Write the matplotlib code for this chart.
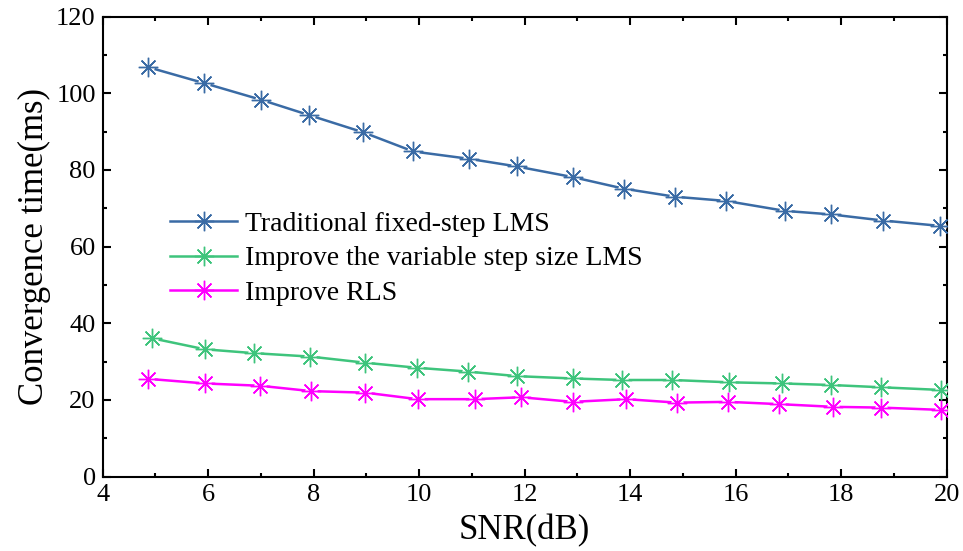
import numpy as np
import matplotlib.pyplot as plt
from matplotlib.ticker import MultipleLocator

plt.rcParams['font.family'] = ['Liberation Serif', 'DejaVu Serif']

x_lms = [4.86, 5.93, 7.0, 7.91, 8.94, 9.89, 10.94, 11.85,
         12.92, 13.88, 14.85, 15.82, 16.94, 17.80, 18.79, 19.87]
y_lms = [106.8, 102.6, 98.3, 94.3, 89.8, 84.8, 82.9, 80.9,
         78.1, 75.1, 73.0, 71.9, 69.3, 68.4, 66.8, 65.4]

x_vss = [4.93, 5.94, 6.87, 7.94, 8.98, 9.95, 10.92, 11.86,
         12.91, 13.84, 14.80, 15.87, 16.88, 17.80, 18.76, 19.90]
y_vss = [36.1, 33.2, 32.2, 31.3, 29.7, 28.4, 27.4, 26.2,
         25.6, 25.2, 25.2, 24.6, 24.3, 23.9, 23.3, 22.6]

x_rls = [4.86, 5.94, 6.98, 7.95, 8.98, 9.97, 11.06, 11.93,
         12.91, 13.93, 14.88, 15.86, 16.83, 17.85, 18.76, 19.90]
y_rls = [25.5, 24.3, 23.7, 22.3, 21.9, 20.2, 20.2, 20.7,
         19.5, 20.2, 19.3, 19.5, 18.9, 18.2, 18.0, 17.4]

series = [
    (x_lms, y_lms, '#3a6ba5', 'Traditional fixed-step LMS'),
    (x_vss, y_vss, '#3ec47c', 'Improve the variable step size LMS'),
    (x_rls, y_rls, '#ff00ff', 'Improve RLS'),
]

fig = plt.figure(figsize=(9.63, 5.51), dpi=100)
ax = fig.add_axes([0.1066, 0.135, 0.8764, 0.835])

star = (8, 2, 0)
for xs, ys, col, lab in series:
    ax.plot(xs, ys, '-', color=col, lw=1.8, zorder=2)
    # white disc behind the marker makes the Origin-style gap in the line
    ax.plot(xs, ys, 'o', ms=9, mfc='white', mec='none', zorder=3)
    ax.plot(xs, ys, ls='none', marker=star, ms=14, mec=col, mew=1.0,
            zorder=4)

handles = [plt.Line2D([], [], color=c, lw=1.8, marker=star, ms=14,
                      mec=c, mew=1.0) for _, _, c, _ in series]
ax.legend(handles, [s[3] for s in series], loc='upper left',
          bbox_to_anchor=(0.08, 0.576), frameon=False, fontsize=20,
          handlelength=2.4, handletextpad=0.3, labelspacing=0.32,
          borderaxespad=0, borderpad=0)

ax.set_xlim(4, 20)
ax.set_ylim(0, 120)
ax.xaxis.set_major_locator(MultipleLocator(2))
ax.xaxis.set_minor_locator(MultipleLocator(1))
ax.yaxis.set_major_locator(MultipleLocator(20))
ax.yaxis.set_minor_locator(MultipleLocator(10))
ax.tick_params(which='both', direction='in', top=True, right=True,
               width=1.5, labelsize=19, pad=5)
ax.tick_params(which='major', length=6)
ax.tick_params(which='minor', length=3)
for sp in ax.spines.values():
    sp.set_linewidth(1.5)

ax.set_xlabel('SNR(dB)', fontsize=25, labelpad=6)
ax.set_ylabel('Convergence time(ms)', fontsize=25, labelpad=4)

fig.savefig('out.png', dpi=100)
